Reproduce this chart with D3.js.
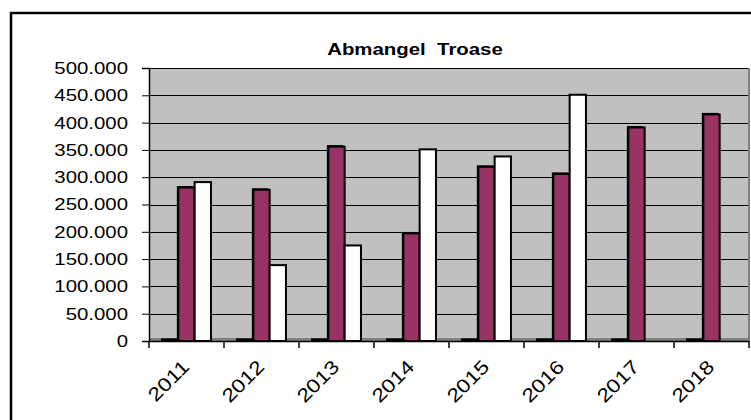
<!DOCTYPE html>
<html>
<head>
<meta charset="utf-8">
<script src="https://cdn.jsdelivr.net/npm/d3@7"></script>
<style>
  body { margin: 0; background: #fff; }
  text { font-family: "Liberation Sans", Arial, sans-serif; }
</style>
</head>
<body>
<div id="chart"></div>
<script>
// data
const years = ["2011", "2012", "2013", "2014", "2015", "2016", "2017", "2018"];
const reiheKlein = [3000, 3000, 3000, 3000, 3000, 3000, 3000, 3000];
const reiheRot = [281000, 277000, 356000, 197000, 319000, 306000, 391000, 415000];
const reiheWeiss = [291000, 139000, 175000, 351000, 338000, 451000, 0, 0];
const yTicks = [0, 50000, 100000, 150000, 200000, 250000, 300000, 350000, 400000, 450000, 500000];
const titel = "Abmangel  Troase";

const reihen = ["klein", "rot", "weiss"];
const farben = { klein: "#000000", rot: "#993366", weiss: "#ffffff" };

const margin = { top: 68, left: 149 };
const width = 600;
const height = 273;
const stretch = 1.2;

const svg = d3.select("#chart")
    .append("svg")
    .attr("width", 751)
    .attr("height", 420);

// outer chart border (runs off the right and bottom edge)
svg.append("rect")
    .attr("x", 11).attr("y", 13)
    .attr("width", 800).attr("height", 500)
    .attr("fill", "#fff")
    .attr("stroke", "#000")
    .attr("stroke-width", 2.5);

svg.append("text")
    .attr("transform", `translate(415,55) scale(${stretch},1)`)
    .attr("text-anchor", "middle")
    .style("white-space", "pre")
    .attr("font-size", 17)
    .attr("font-weight", "bold")
    .text(titel);

const g = svg.append("g")
    .attr("transform", `translate(${margin.left},${margin.top})`);

const x0 = d3.scaleBand().domain(years).range([0, width]);
const x1 = d3.scaleBand().domain(reihen).range([0, x0.bandwidth()]).paddingOuter(0.8);
const y = d3.scaleLinear().domain([0, 500000]).range([height, 0]);

const de = d3.formatLocale({ decimal: ",", thousands: ".", grouping: [3], currency: ["", " €"] });
const fmt = de.format(",d");

// plot area: grey wall, darker floor and side edge
g.append("rect")
    .attr("width", width).attr("height", height)
    .attr("fill", "#c0c0c0");
g.append("rect")
    .attr("y", height - 3).attr("width", width).attr("height", 3)
    .attr("fill", "#808080");
g.append("line")
    .attr("x1", width).attr("x2", width)
    .attr("y1", 0).attr("y2", height)
    .attr("stroke", "#808080").attr("stroke-width", 2);

// gridlines
g.append("g")
    .selectAll("line")
    .data(yTicks.filter(d => d > 0))
    .join("line")
    .attr("x1", 0).attr("x2", width - 1)
    .attr("y1", d => Math.round(y(d)) + 0.5)
    .attr("y2", d => Math.round(y(d)) + 0.5)
    .attr("stroke", "#000");

// bars
const daten = years.map((jahr, i) => ({
    jahr,
    werte: [
        { reihe: "klein", wert: reiheKlein[i] },
        { reihe: "rot", wert: reiheRot[i] },
        { reihe: "weiss", wert: reiheWeiss[i] }
    ]
}));

const gruppen = g.append("g")
    .selectAll("g")
    .data(daten)
    .join("g")
    .attr("transform", d => `translate(${x0(d.jahr)},0)`);

// small dark offset behind each bar, like the 3D edge in the original
gruppen.selectAll("rect.schatten")
    .data(d => d.werte.filter(v => v.wert > 0 && v.reihe === "rot"))
    .join("rect")
    .attr("class", "schatten")
    .attr("x", d => x1(d.reihe) - 1.5)
    .attr("y", d => y(d.wert) - 1.5)
    .attr("width", x1.bandwidth())
    .attr("height", d => height - y(d.wert))
    .attr("fill", "#000");

gruppen.selectAll("rect.balken")
    .data(d => d.werte.filter(v => v.wert > 0))
    .join("rect")
    .attr("class", "balken")
    .attr("x", d => x1(d.reihe))
    .attr("y", d => y(d.wert))
    .attr("width", x1.bandwidth())
    .attr("height", d => height - y(d.wert))
    .attr("fill", d => farben[d.reihe])
    .attr("stroke", "#000")
    .attr("stroke-width", 2);

// y axis
const yAxis = g.append("g")
    .call(d3.axisLeft(y).tickValues(yTicks).tickSize(7).tickFormat(fmt));
yAxis.select(".domain").attr("stroke", "#000").attr("stroke-width", 1.5);
yAxis.selectAll(".tick line").attr("stroke", "#000");
yAxis.selectAll(".tick text")
    .attr("x", -21 / stretch)
    .attr("transform", `scale(${stretch},1)`)
    .attr("font-size", 17)
    .attr("fill", "#000");

// x axis: baseline, ticks between categories, rotated labels
g.append("line")
    .attr("x1", 0).attr("x2", width)
    .attr("y1", height + 0.5).attr("y2", height + 0.5)
    .attr("stroke", "#000").attr("stroke-width", 1.5);

const grenzen = years.map(d => x0(d)).concat([width]);
g.append("g")
    .selectAll("line")
    .data(grenzen)
    .join("line")
    .attr("x1", d => d).attr("x2", d => d)
    .attr("y1", height).attr("y2", height + 7)
    .attr("stroke", "#000")
    .attr("stroke-width", 1.5);

g.append("g")
    .selectAll("text")
    .data(years)
    .join("text")
    .attr("transform", d => `translate(${x0(d) + x0.bandwidth() / 2 + 4},${height + 27}) rotate(-45) scale(${stretch},1)`)
    .attr("text-anchor", "end")
    .attr("font-size", 19)
    .text(d => d);
</script>
</body>
</html>
